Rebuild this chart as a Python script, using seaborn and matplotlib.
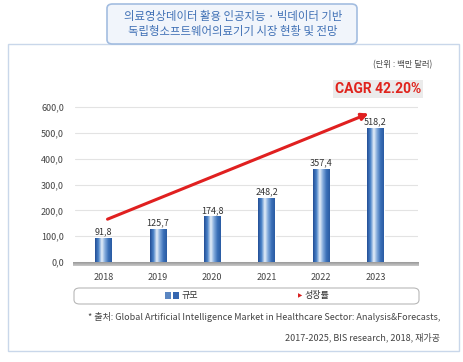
import numpy as np
import pandas as pd
import seaborn as sns
import matplotlib.pyplot as plt
from matplotlib.patches import Rectangle, FancyBboxPatch
from matplotlib.colors import LinearSegmentedColormap

years = ["2018", "2019", "2020", "2021", "2022", "2023"]
market = [91.8, 125.7, 174.8, 248.2, 357.4, 518.2]
yticks = [0, 100, 200, 300, 400, 500, 600]
ytick_labels = ["0,0", "100,0", "200,0", "300,0", "400,0", "500,0", "600,0"]
trend_x = [0.03, 4.92]
trend_y = [162, 580]

title = "의료영상데이터 활용 인공지능 · 빅데이터 기반\n독립형소프트웨어의료기기 시장 현황 및 전망"
unit = "(단위 : 백만 달러)"
cagr = "CAGR 42.20%"
source1 = "* 출처: Global Artificial Intelligence Market in Healthcare Sector: Analysis&Forecasts,"
source2 = "2017-2025, BIS research, 2018, 재가공"

sns.set_theme(style="white")
plt.rcParams["font.family"] = ["Noto Sans CJK KR", "DejaVu Sans"]

W, H = 463, 362
fig = plt.figure(figsize=(W / 100, H / 100), dpi=100)


def fx(px):
    return px / W


def fy(py):
    return 1 - py / H


# outer panel and title box
fig.patches.append(Rectangle((fx(8), fy(351)), fx(451), 307 / H, transform=fig.transFigure,
                             facecolor="white", edgecolor="#c9d7ea", lw=1, zorder=-2))
fig.patches.append(FancyBboxPatch((fx(107), fy(44)), fx(250), 40 / H, transform=fig.transFigure,
                                  boxstyle="round,pad=0,rounding_size=0.012",
                                  facecolor="#f1f5fb", edgecolor="#a3bde0", lw=1.2, zorder=-1))
fig.text(fx(233), fy(24), title, ha="center", va="center", fontsize=8.2, color="#3f70b5",
         linespacing=1.5, fontweight="medium")

ax = fig.add_axes([fx(75), fy(262), fx(343), 165 / H])
ax.set_zorder(3)
ax.set_facecolor("none")
df = pd.DataFrame({"year": years, "market": market})
sns.barplot(data=df, x="year", y="market", color="#3a6db5", width=0.3, ax=ax, zorder=3)

cmap = LinearSegmentedColormap.from_list(
    "bar", ["#234f96", "#4a82c8", "#e6eff9", "#7fa8da", "#3b70b8", "#2a5ba3"])
grad = np.linspace(0, 1, 64).reshape(1, -1)
for p in ax.patches:
    x0, y0 = p.get_x(), p.get_y()
    ax.imshow(grad, cmap=cmap, extent=(x0, x0 + p.get_width(), y0, y0 + p.get_height()),
              aspect="auto", zorder=4)
    ax.text(x0 + p.get_width() / 2, p.get_height() + 8, f"{p.get_height():.1f}".replace(".", ","),
            ha="center", va="bottom", fontsize=6.5, color="#333333", zorder=6)

ax.set_xlim(-0.52, 5.78)
ax.set_ylim(0, 640)
ax.set_yticks(yticks)
ax.set_yticklabels(ytick_labels, fontsize=6.5, color="#444444")
ax.tick_params(axis="x", labelsize=6.5, labelcolor="#444444", length=0, pad=8)
ax.tick_params(axis="y", length=0, pad=8)
ax.set_xlabel("")
ax.set_ylabel("")
for s in ax.spines.values():
    s.set_visible(False)
ax.grid(axis="y", color="#e3e3e3", lw=0.8, zorder=0)
ax.grid(axis="x", visible=False)

# floor band
floor = LinearSegmentedColormap.from_list("floor", ["#9a9a9a", "#c8c8c8"])
ax.imshow(np.linspace(0, 1, 16).reshape(-1, 1), cmap=floor, extent=(-0.55, 5.8, -14, 0),
          aspect="auto", zorder=2, clip_on=False)
ax.set_xlim(-0.52, 5.78)
ax.set_ylim(0, 640)

# growth arrow
ax.annotate("", xy=(trend_x[1], trend_y[1]), xytext=(trend_x[0], trend_y[0]),
            arrowprops=dict(arrowstyle="-|>", color="#e02020", lw=2.2, mutation_scale=10),
            zorder=7, annotation_clip=False)

fig.text(fx(378), fy(89), cagr, ha="center", va="center", fontsize=10, color="#e0231c",
         fontweight="bold", family=["Roboto", "DejaVu Sans"],
         bbox=dict(boxstyle="square,pad=0.15", facecolor="#ebebeb", edgecolor="none"))
fig.text(fx(432), fy(65), unit, ha="right", va="center", fontsize=6, color="#444444")

# legend
fig.patches.append(FancyBboxPatch((fx(74), fy(304)), fx(345), 16 / H, transform=fig.transFigure,
                                  boxstyle="round,pad=0,rounding_size=0.012", facecolor="white",
                                  edgecolor="#b8b8b8", lw=0.8, zorder=2))
fig.patches.append(Rectangle((fx(165), fy(299)), fx(6), 7 / H, transform=fig.transFigure,
                             facecolor="#5a86c2", edgecolor="none", zorder=3))
fig.patches.append(Rectangle((fx(173), fy(299)), fx(6), 7 / H, transform=fig.transFigure,
                             facecolor="#3566b0", edgecolor="none", zorder=3))
fig.text(fx(182), fy(295.5), "규모", ha="left", va="center", fontsize=6.5, color="#333333")
fig.add_artist(plt.Line2D([fx(278), fx(300)], [fy(295.5), fy(295.5)], color="#d81e1e", lw=1.5))
fig.text(fx(300), fy(295.5), "▶", ha="center", va="center", fontsize=4, color="#d81e1e",
         family=["DejaVu Sans"])
fig.text(fx(305), fy(295.5), "성장률", ha="left", va="center", fontsize=6.5, color="#333333")

fig.text(fx(440), fy(317), source1, ha="right", va="center", fontsize=6.5, color="#444444")
fig.text(fx(440), fy(337), source2, ha="right", va="center", fontsize=6.5, color="#444444")

fig.savefig("out.png", dpi=100)
